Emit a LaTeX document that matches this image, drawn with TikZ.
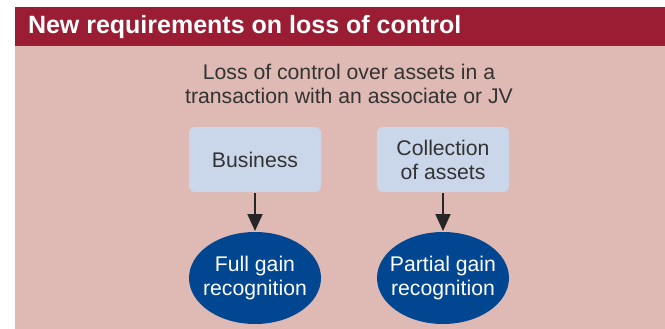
\documentclass[tikz,border=0pt]{standalone}
\usepackage{fontspec}
\setmainfont{Liberation Sans}
\usepackage{tikz}
\usepackage{xcolor}
\usetikzlibrary{arrows.meta, shapes.geometric}
\definecolor{hr}{RGB}{155, 29, 51}
\definecolor{bgpink}{RGB}{223, 185, 179}
\definecolor{boxblue}{RGB}{202, 215, 234}
\definecolor{db}{RGB}{0, 70, 145}
\definecolor{txtgray}{RGB}{51, 51, 51}
\tikzset{
  topic/.style = {align = center, text = txtgray, font = \fontsize{21.2}{24}\selectfont},
  choice/.style = {topic, fill = boxblue, rounded corners = 6pt, minimum width = 132pt, minimum height = 65pt, inner sep = 0pt},
  outcome/.style = {ellipse, align = center, text = white, fill = db, font = \fontsize{21.2}{24.5}\selectfont, minimum width = 132pt, minimum height = 92pt, inner ysep = 0pt, inner xsep = -8pt}
}

\begin{document}
\begin{tikzpicture}[x = 1pt, y = -1pt, line width = 2pt, >={Triangle[length = 17pt, width = 15pt]}]
\useasboundingbox (0,0) rectangle (665,329);
\fill[bgpink] (15,46) rectangle (665,329);
\fill[hr] (15,7) rectangle (665,46);
\node[anchor = west, text = white, font = \fontsize{25}{28}\selectfont\bfseries, inner sep = 0pt] (title) at (27,27) {New requirements on loss of control};
\node[topic] (loss) at (349,84) {Loss of control over assets in a\\transaction with an associate or JV};
% two kinds of assets
\node[choice] (business) at (255,159.5) {Business};
\node[choice] (collection) at (443,159.5) {Collection\\of assets};
\node[outcome] (full) at (255,278) {Full gain\\recognition};
\node[outcome] (partial) at (443,278) {Partial gain\\recognition};
\draw[->, color = black!85] (business) -- (full);
\draw[->, color = black!85] (collection) -- (partial);
\end{tikzpicture}
\end{document}
